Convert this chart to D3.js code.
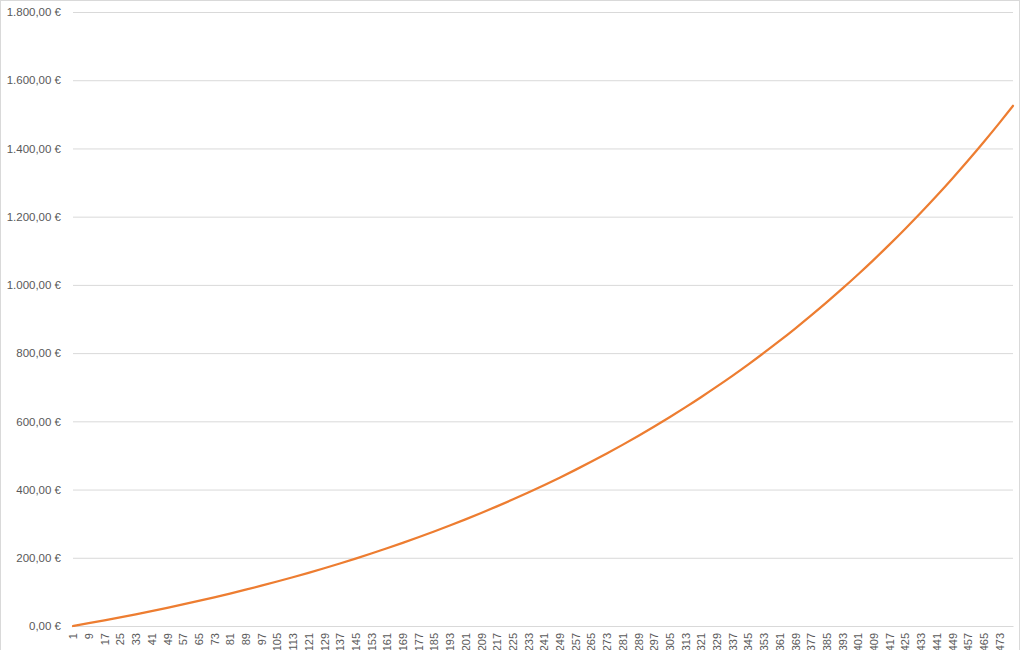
<!DOCTYPE html>
<html>
<head>
<meta charset="utf-8">
<script src="https://cdn.jsdelivr.net/npm/d3@7"></script>
<style>
  body { margin: 0; background: #fff; }
  .tick text { font-family: "Liberation Sans", Arial, sans-serif; font-size: 11.5px; fill: #595959; }
  .x-axis .tick text { font-size: 11px; }
</style>
</head>
<body>
<div id="chart"></div>
<script>
// month index 1..480 (category axis)
var months = d3.range(1, 481);

var sampleMonths = [1, 9, 17, 25, 33, 41, 49, 57, 65, 73, 81, 89, 97, 105, 113, 121, 129, 137, 145, 153,
  161, 169, 177, 185, 193, 201, 209, 217, 225, 233, 241, 249, 257, 265, 273, 281, 289, 297, 305, 313,
  321, 329, 337, 345, 353, 361, 369, 377, 385, 393, 401, 409, 417, 425, 433, 441, 449, 457, 465, 473, 480];

var balance = [0, 8.2, 16.6, 25.3, 34.3, 43.6, 53.2, 63.2, 73.5, 84.1, 95.1, 106.5, 118.2, 130.4, 142.9, 155.9,
  169.4, 183.2, 197.6, 212.4, 227.8, 243.6, 260.0, 276.9, 294.5, 312.6, 331.3, 350.7, 370.7, 391.4,
  412.7, 434.9, 457.7, 481.3, 505.8, 531.0, 557.1, 584.1, 612.0, 640.9, 670.7, 701.6, 733.4, 766.4,
  800.5, 835.7, 872.1, 909.8, 948.7, 988.9, 1030.5, 1073.5, 1118.0, 1164.0, 1211.5, 1260.6, 1311.4,
  1363.9, 1418.2, 1474.3, 1525.0];

var xTickLabels = [1, 9, 17, 25, 33, 41, 49, 57, 65, 73, 81, 89, 97, 105, 113, 121, 129, 137, 145, 153,
  161, 169, 177, 185, 193, 201, 209, 217, 225, 233, 241, 249, 257, 265, 273, 281, 289, 297, 305, 313,
  321, 329, 337, 345, 353, 361, 369, 377, 385, 393, 401, 409, 417, 425, 433, 441, 449, 457, 465, 473];

var yTicks = [0, 200, 400, 600, 800, 1000, 1200, 1400, 1600, 1800];

var svgWidth = 1024;
var svgHeight = 650;
var margin = { top: 12, right: 11, bottom: 24, left: 73 };
var width = svgWidth - margin.left - margin.right;
var height = svgHeight - margin.top - margin.bottom;

var euro = d3.formatLocale({ decimal: ",", thousands: ".", grouping: [3], currency: ["", " €"] }).format("$,.2f");

var svg = d3.select("#chart")
  .append("svg")
  .attr("width", svgWidth)
  .attr("height", svgHeight);

// chart area border
svg.append("rect")
  .attr("x", 0.5)
  .attr("y", 0.5)
  .attr("width", 1019)
  .attr("height", 700)
  .attr("fill", "#fff")
  .attr("stroke", "#d9d9d9");

var chartGroup = svg.append("g")
  .attr("transform", `translate(${margin.left}, ${margin.top})`);

var xScale = d3.scalePoint()
  .domain(months)
  .range([0, width]);

var yScale = d3.scaleLinear()
  .domain([0, 1800])
  .range([height, 0]);

// gridlines + y labels
var leftAxis = d3.axisLeft(yScale)
  .tickValues(yTicks)
  .tickSize(-width)
  .tickPadding(12)
  .tickFormat(euro);

chartGroup.append("g")
  .call(leftAxis)
  .call(g => g.select(".domain").remove())
  .call(g => g.selectAll(".tick line").attr("stroke", "#d9d9d9"));

// x axis
var bottomAxis = d3.axisBottom(xScale)
  .tickValues(xTickLabels)
  .tickSize(0);

chartGroup.append("g")
  .attr("class", "x-axis")
  .attr("transform", `translate(0, ${height})`)
  .call(bottomAxis)
  .call(g => g.select(".domain").attr("stroke", "#d9d9d9"))
  .selectAll("text")
  .attr("transform", "rotate(-90)")
  .attr("x", -7)
  .attr("y", 0)
  .attr("dy", "0.35em")
  .style("text-anchor", "end");

// balance line
var line = d3.line()
  .x((d, i) => xScale(sampleMonths[i]))
  .y(d => yScale(d))
  .curve(d3.curveMonotoneX);

chartGroup.append("path")
  .datum(balance)
  .attr("fill", "none")
  .attr("stroke", "#ed7d31")
  .attr("stroke-width", 2.25)
  .attr("stroke-linecap", "round")
  .attr("d", line);
</script>
</body>
</html>
